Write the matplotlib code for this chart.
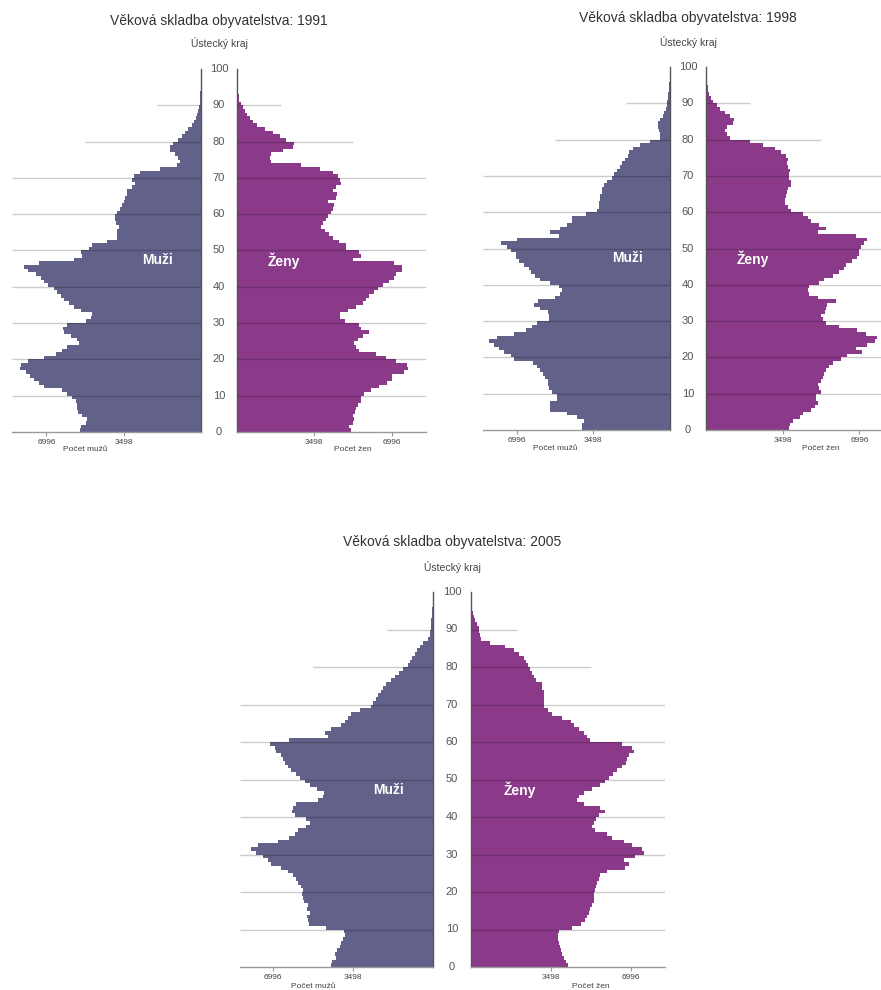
import matplotlib
matplotlib.use("Agg")
import matplotlib.pyplot as plt
from matplotlib.transforms import blended_transform_factory

plt.rcParams['font.family'] = ['Liberation Sans', 'DejaVu Sans']

# ---------------- data ----------------
ages = list(range(100))
years = ["1991", "1998", "2005"]
title_base = "Věková skladba obyvatelstva: "
subtitle = "Ústecký kraj"
label_men = "Muži"
label_women = "Ženy"
xlabel_men = "Počet mužů"
xlabel_women = "Počet žen"
x_tick_values = [3498, 6996]
x_tick_labels = ["3498", "6996"]
age_ticks = [0, 10, 20, 30, 40, 50, 60, 70, 80, 90, 100]
full_grid = [10, 20, 30, 40, 50, 60, 70]
part_grid = [80, 90]
part_grid_ends = [5250, 2000]

male_1991 = [5490, 5445, 5220, 5175, 5370, 5550, 5600, 5600, 5650, 5820,
             6045, 6270, 7095, 7320, 7545, 7725, 7920, 8175, 8145, 7845,
             7095, 6570, 6270, 6045, 5520, 5595, 5895, 6195, 6225, 6045,
             5220, 4995, 4920, 5445, 5745, 5970, 6195, 6345, 6495, 6645,
             6945, 7095, 7245, 7470, 7845, 7995, 7320, 5745, 5370, 5445,
             5070, 4920, 4245, 3795, 3795, 3795, 3720, 3825, 3870, 3870,
             3795, 3645, 3570, 3495, 3420, 3345, 3345, 3120, 2970, 3120,
             3045, 2745, 1845, 1095, 945, 1020, 1170, 1395, 1395, 1245,
             1020, 870, 720, 570, 420, 300, 225, 165, 120, 90,
             60, 45, 35, 25, 15, 10, 6, 4, 2, 1]
female_1991 = [5160, 5085, 5235, 5280, 5235, 5355, 5385, 5460, 5610, 5610,
               5760, 6060, 6435, 6810, 7035, 7035, 7560, 7755, 7710, 7185,
               6735, 6285, 5535, 5385, 5310, 5460, 5685, 5955, 5610, 5535,
               4905, 4665, 4665, 5010, 5385, 5685, 5835, 5985, 6210, 6360,
               6585, 6885, 7110, 7185, 7485, 7485, 7110, 5235, 5610, 5535,
               4935, 4935, 4635, 4335, 4185, 3960, 3810, 3885, 4035, 4110,
               4260, 4335, 4410, 4110, 4485, 4515, 4335, 4485, 4710, 4665,
               4560, 4335, 3735, 2910, 1560, 1485, 1560, 2085, 2535, 2565,
               2235, 1935, 1635, 1260, 885, 735, 585, 435, 360, 255,
               165, 105, 75, 45, 30, 15, 10, 5, 3, 2]
male_1998 = [4015, 4015, 3940, 4240, 4700, 5450, 5450, 5485, 5150, 5150,
             5380, 5530, 5575, 5575, 5680, 5790, 5910, 6060, 6240, 7120,
             7270, 7575, 7800, 8030, 8255, 7880, 7120, 6590, 6290, 6060,
             5530, 5530, 5575, 5940, 6180, 6030, 5225, 5000, 4925, 5075,
             5450, 5910, 6135, 6330, 6440, 6665, 6895, 7045, 7045, 7270,
             7420, 7725, 6970, 5075, 5450, 5000, 4700, 4470, 4470, 3820,
             3330, 3260, 3260, 3210, 3180, 3110, 3110, 3030, 2880, 2650,
             2575, 2425, 2300, 2200, 2045, 1895, 1860, 1700, 1365, 910,
             455, 455, 500, 530, 530, 455, 333, 273, 180, 150,
             120, 90, 70, 50, 35, 25, 15, 10, 6, 4]
female_1998 = [3805, 3835, 3955, 4290, 4410, 4785, 4985, 5090, 5015, 5015,
               5240, 5165, 5090, 5240, 5315, 5390, 5465, 5620, 5770, 6145,
               6450, 7095, 6825, 7355, 7730, 7805, 7280, 6900, 6070, 5465,
               5315, 5240, 5435, 5465, 5540, 5920, 5090, 4710, 4635, 4680,
               5165, 5390, 5770, 6070, 6295, 6370, 6675, 6900, 6975, 6975,
               7050, 7200, 7355, 6825, 5090, 5465, 5165, 4785, 4635, 4410,
               3880, 3730, 3625, 3625, 3655, 3685, 3730, 3880, 3880, 3805,
               3805, 3835, 3730, 3685, 3730, 3655, 3430, 3125, 2600, 1995,
               1090, 935, 860, 935, 1240, 1270, 1090, 860, 635, 485,
               330, 210, 150, 105, 75, 45, 30, 20, 10, 5]
male_2005 = [4445, 4400, 4255, 4300, 4200, 4080, 4010, 3935, 3860, 3905,
             4665, 5420, 5465, 5510, 5395, 5510, 5465, 5655, 5685, 5715,
             5685, 5755, 5905, 6005, 6120, 6340, 6630, 7070, 7215, 7435,
             7725, 7945, 7650, 6775, 6295, 6050, 5905, 5540, 5395, 5570,
             6050, 6150, 6120, 5975, 5030, 4810, 4780, 5070, 5395, 5610,
             5830, 6005, 6195, 6340, 6485, 6560, 6630, 6850, 6920, 7110,
             6295, 4590, 4735, 4445, 4010, 3860, 3715, 3570, 3205, 2695,
             2625, 2505, 2405, 2260, 2185, 2040, 1820, 1675, 1485, 1310,
             1095, 1020, 905, 800, 700, 585, 435, 220, 145, 115,
             100, 90, 75, 60, 45, 30, 20, 12, 8, 5]
female_2005 = [4225, 4170, 4050, 3980, 3935, 3905, 3835, 3790, 3790, 3850,
               4400, 4800, 5000, 5070, 5145, 5220, 5290, 5365, 5395, 5395,
               5435, 5480, 5510, 5580, 5655, 5945, 6750, 6895, 6675, 7185,
               7550, 7475, 7040, 6675, 6165, 5945, 5435, 5290, 5365, 5480,
               5580, 5875, 5625, 4925, 4635, 4710, 4925, 5290, 5655, 5875,
               6020, 6210, 6385, 6600, 6790, 6820, 6895, 7140, 7040, 6600,
               5220, 5070, 4925, 4710, 4490, 4370, 3980, 3540, 3350, 3205,
               3175, 3175, 3205, 3175, 3105, 3105, 2855, 2740, 2665, 2595,
               2480, 2420, 2305, 2085, 1865, 1500, 845, 435, 380, 335,
               335, 260, 190, 145, 87, 60, 40, 25, 15, 10]

males = [male_1991, male_1998, male_2005]
females = [female_1991, female_1998, female_2005]

# ---------------- style / layout ----------------
MALE_COLOR = "#626189"
FEMALE_COLOR = "#8b3a89"
W, H, DPI = 881, 990, 100

layouts = [
    dict(m=(12, 201), f=(237, 426), ytop=69, ybot=432, px_per_unit=77.3 / 3498,
         cx=219, title_y=21, sub_y=43, xlab_off=18),
    dict(m=(483, 670), f=(706, 893), ytop=67, ybot=430, px_per_unit=76.7 / 3498,
         cx=688, title_y=18, sub_y=42, xlab_off=18),
    dict(m=(240, 433), f=(471, 665), ytop=592, ybot=967, px_per_unit=80.0 / 3498,
         cx=452, title_y=542, sub_y=567, xlab_off=20),
]

fig = plt.figure(figsize=(W / DPI, H / DPI), dpi=DPI)
fig.patch.set_facecolor("white")


def add_px_axes(x0, x1, ytop, ybot):
    return fig.add_axes([x0 / W, 1 - ybot / H, (x1 - x0) / W, (ybot - ytop) / H])


def style_axes(ax, xmax, inner_side, values, color, side_label, label_x, xlabel, xlab_off):
    ax.barh(ages, values, height=1, align="edge", color=color, linewidth=0, zorder=2)
    ax.set_ylim(0, 100)
    if inner_side == "right":
        ax.set_xlim(xmax, 0)
    else:
        ax.set_xlim(0, xmax)
    for s in ["top", "left", "right", "bottom"]:
        ax.spines[s].set_visible(False)
    ax.spines[inner_side].set_visible(True)
    ax.spines[inner_side].set_color("#555555")
    ax.spines[inner_side].set_linewidth(1.0)
    ax.spines["bottom"].set_visible(True)
    ax.spines["bottom"].set_color("#9a9a9a")
    ax.spines["bottom"].set_linewidth(1.0)
    ax.set_yticks([])
    ax.set_xticks(x_tick_values)
    ax.set_xticklabels(x_tick_labels)
    ax.tick_params(axis="x", length=3, width=0.8, color="#9a9a9a", labelsize=6,
                   labelcolor="#444444", pad=2)
    ax.patch.set_alpha(0)
    # grid lines drawn on top of bars
    for g in full_grid:
        ax.hlines(g, 0, xmax, color="black", alpha=0.2, lw=1.0, zorder=3)
    for g, e in zip(part_grid, part_grid_ends):
        ax.hlines(g, 0, e, color="black", alpha=0.2, lw=1.0, zorder=3)
    ax.text(label_x, 47.3, side_label, color="white", fontweight="bold", fontsize=10,
            ha="center", va="center", zorder=5)
    ax.annotate(xlabel, xy=(sum(x_tick_values) / 2, 0), xycoords="data",
                xytext=(0, -xlab_off * 72 / DPI), textcoords="offset points",
                ha="center", va="center", fontsize=6, color="#444444",
                annotation_clip=False)


for year, male, female, L in zip(years, males, females, layouts):
    ax_m = add_px_axes(L["m"][0], L["m"][1], L["ytop"], L["ybot"])
    ax_f = add_px_axes(L["f"][0], L["f"][1], L["ytop"], L["ybot"])
    xmax_m = (L["m"][1] - L["m"][0]) / L["px_per_unit"]
    xmax_f = (L["f"][1] - L["f"][0]) / L["px_per_unit"]
    style_axes(ax_m, xmax_m, "right", male, MALE_COLOR, label_men, 1950,
               xlabel_men, L["xlab_off"])
    style_axes(ax_f, xmax_f, "left", female, FEMALE_COLOR, label_women, 2120,
               xlabel_women, L["xlab_off"])

    trans = blended_transform_factory(fig.transFigure, ax_m.transData)
    for a in age_ticks:
        fig.text(L["cx"] / W, a, str(a), transform=trans, ha="center", va="center",
                 fontsize=8, color="#555555")

    fig.text(L["cx"] / W, 1 - L["title_y"] / H, title_base + year, ha="center",
             va="center", fontsize=10, color="#333333")
    fig.text(L["cx"] / W, 1 - L["sub_y"] / H, subtitle, ha="center", va="center",
             fontsize=7.5, color="#444444")

fig.savefig("out.png", dpi=DPI, facecolor="white")
